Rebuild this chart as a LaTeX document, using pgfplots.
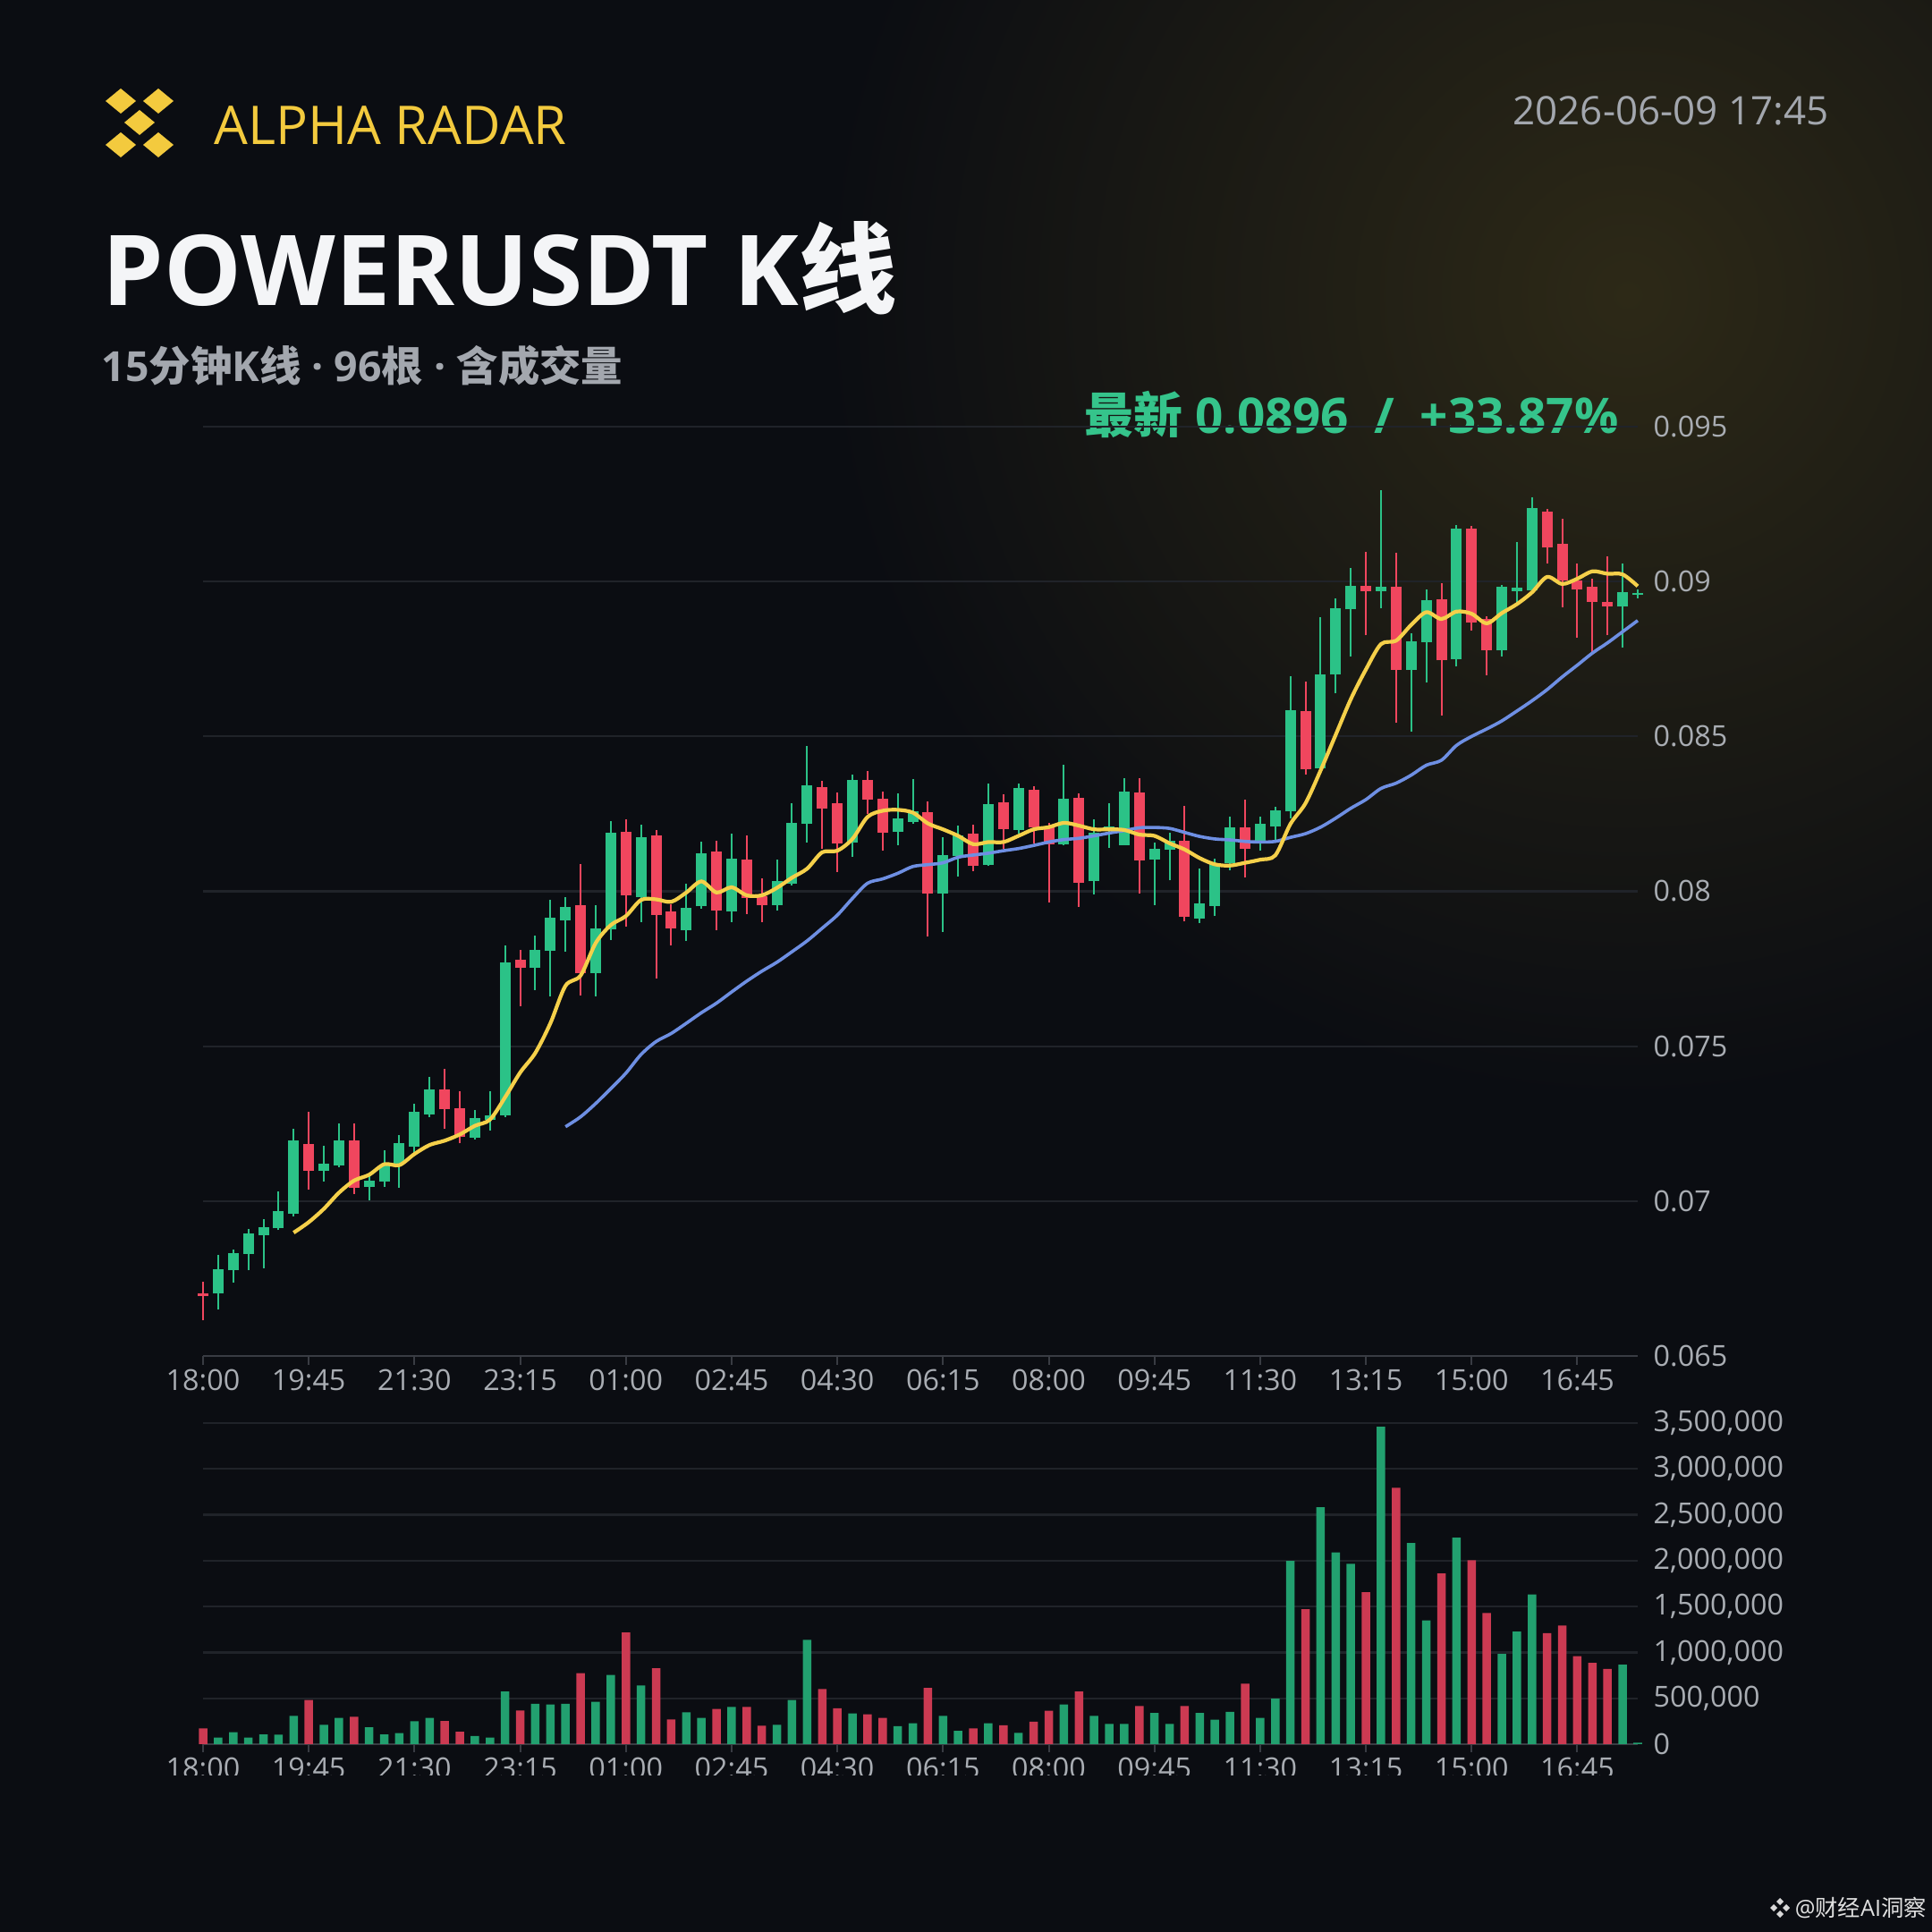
\documentclass[border=0pt]{standalone}
\usepackage{pgfplots}
\pgfplotsset{compat=1.18}
\usepackage{pgfplotstable}
\usepackage{fontspec}
\setmainfont{Open Sans}
\newfontfamily\cjk{Noto Sans CJK SC}

\definecolor{bg}{HTML}{0B0D12}
\definecolor{glow}{HTML}{2D2917}
\definecolor{gridc}{HTML}{202329}
\definecolor{axisc}{HTML}{393C43}
\definecolor{tickc}{HTML}{A9ADB3}
\definecolor{upc}{HTML}{2BC287}
\definecolor{dnc}{HTML}{F0465E}
\definecolor{upv}{HTML}{22A06F}
\definecolor{dnv}{HTML}{CC3A52}
\definecolor{maY}{HTML}{F5D04A}
\definecolor{maB}{HTML}{6E8FE3}
\definecolor{brand}{HTML}{F3CA3E}
\definecolor{titlec}{HTML}{F4F5F7}
\definecolor{subc}{HTML}{A3A7AE}
\definecolor{latest}{HTML}{35C48B}

% up (green) candles: index open high low close volume
\pgfplotstableread{
i O H L C V
1 0.06701 0.06826 0.06649 0.06780 71000
2 0.06776 0.06845 0.06738 0.06831 130000
3 0.06829 0.06910 0.06776 0.06896 71000
4 0.06890 0.06941 0.06783 0.06915 107000
5 0.06912 0.07030 0.06906 0.06967 104000
6 0.06960 0.07232 0.06951 0.07197 309000
8 0.07097 0.07178 0.07063 0.07121 211000
9 0.07116 0.07250 0.07109 0.07197 286000
11 0.07045 0.07085 0.07001 0.07066 185000
12 0.07064 0.07164 0.07045 0.07119 107000
13 0.07119 0.07212 0.07044 0.07186 120000
14 0.07176 0.07315 0.07152 0.07289 250000
15 0.07280 0.07400 0.07272 0.07359 286000
18 0.07205 0.07293 0.07198 0.07269 88000
19 0.07262 0.07356 0.07229 0.07277 71000
20 0.07277 0.07824 0.07272 0.07771 575000
22 0.07752 0.07856 0.07682 0.07812 439000
23 0.07807 0.07973 0.07661 0.07916 432000
24 0.07907 0.07980 0.07805 0.07950 439000
26 0.07735 0.07956 0.07661 0.07881 461000
27 0.07876 0.08227 0.07843 0.08188 754000
29 0.07982 0.08215 0.07900 0.08174 640000
32 0.07875 0.08025 0.07841 0.07946 348000
33 0.07951 0.08160 0.07944 0.08124 286000
35 0.07934 0.08185 0.07900 0.08106 406000
38 0.07956 0.08102 0.07937 0.08032 211000
39 0.08025 0.08284 0.08020 0.08222 481000
40 0.08219 0.08468 0.08157 0.08342 1137000
43 0.08157 0.08377 0.08111 0.08358 335000
46 0.08191 0.08315 0.08148 0.08236 195000
47 0.08224 0.08363 0.08217 0.08257 227000
49 0.07992 0.08174 0.07870 0.08118 309000
50 0.08113 0.08212 0.08047 0.08179 146000
52 0.08085 0.08349 0.08081 0.08282 227000
54 0.08198 0.08347 0.08186 0.08332 123000
57 0.08152 0.08409 0.08150 0.08299 432000
59 0.08032 0.08231 0.07990 0.08188 309000
60 0.08196 0.08284 0.08140 0.08208 221000
61 0.08150 0.08364 0.08148 0.08321 221000
63 0.08102 0.08157 0.07956 0.08138 341000
64 0.08133 0.08188 0.08035 0.08162 221000
66 0.07913 0.08073 0.07898 0.07961 341000
67 0.07953 0.08104 0.07920 0.08090 266000
68 0.08090 0.08241 0.08068 0.08207 351000
70 0.08164 0.08241 0.08131 0.08217 286000
71 0.08209 0.08272 0.08164 0.08260 497000
72 0.08257 0.08694 0.08236 0.08586 1998000
74 0.08396 0.08884 0.08390 0.08700 2583000
75 0.08699 0.08946 0.08639 0.08915 2089000
76 0.08910 0.09045 0.08759 0.08987 1966000
78 0.08970 0.09295 0.08913 0.08982 3460000
80 0.08716 0.08834 0.08516 0.08807 2193000
81 0.08804 0.08975 0.08673 0.08939 1348000
83 0.08750 0.09181 0.08726 0.09170 2251000
86 0.08778 0.08989 0.08759 0.08982 984000
87 0.08970 0.09127 0.08927 0.08980 1228000
88 0.08972 0.09272 0.08967 0.09236 1631000
94 0.08919 0.09057 0.08788 0.08967 867000
95 0.08956 0.08973 0.08946 0.08962 15000
}\upT

% down (red) candles
\pgfplotstableread{
i O H L C V
0 0.06702 0.06740 0.06615 0.06693 172000
7 0.07183 0.07289 0.07037 0.07097 481000
10 0.07197 0.07250 0.07023 0.07042 299000
16 0.07359 0.07428 0.07232 0.07296 253000
17 0.07299 0.07354 0.07186 0.07208 136000
21 0.07779 0.07811 0.07630 0.07754 367000
25 0.07956 0.08089 0.07665 0.07737 773000
28 0.08193 0.08231 0.07886 0.07987 1218000
30 0.08181 0.08198 0.07718 0.07924 828000
31 0.07934 0.07958 0.07826 0.07881 270000
34 0.08129 0.08164 0.07875 0.07939 383000
36 0.08102 0.08181 0.07927 0.07977 406000
37 0.07984 0.08041 0.07900 0.07956 201000
41 0.08337 0.08356 0.08136 0.08267 601000
42 0.08284 0.08318 0.08063 0.08153 390000
44 0.08358 0.08387 0.08250 0.08296 325000
45 0.08300 0.08323 0.08131 0.08190 286000
48 0.08255 0.08289 0.07854 0.07992 614000
51 0.08185 0.08214 0.08066 0.08081 172000
53 0.08286 0.08313 0.08136 0.08200 205000
55 0.08327 0.08340 0.08153 0.08206 244000
56 0.08206 0.08222 0.07965 0.08152 364000
58 0.08301 0.08315 0.07950 0.08027 575000
62 0.08318 0.08364 0.07992 0.08100 416000
65 0.08162 0.08275 0.07902 0.07918 416000
69 0.08205 0.08297 0.08044 0.08137 660000
73 0.08582 0.08678 0.08378 0.08393 1472000
77 0.08985 0.09097 0.08826 0.08970 1657000
79 0.08982 0.09093 0.08543 0.08716 2794000
82 0.08943 0.08994 0.08567 0.08745 1862000
84 0.09170 0.09178 0.08841 0.08869 2005000
85 0.08879 0.08887 0.08697 0.08778 1429000
89 0.09226 0.09234 0.09059 0.09109 1209000
90 0.09121 0.09203 0.08917 0.09002 1293000
91 0.09004 0.09057 0.08819 0.08975 958000
92 0.08982 0.09009 0.08766 0.08935 887000
93 0.08935 0.09081 0.08826 0.08920 819000
}\dnT

% MA7 (yellow)
\pgfplotstableread{
i v
6 0.06898
7 0.06932
8 0.06975
9 0.07027
10 0.07066
11 0.07085
12 0.07119
13 0.07116
14 0.07152
15 0.07181
16 0.07195
17 0.07215
18 0.07243
19 0.07263
20 0.07335
21 0.07415
22 0.07478
23 0.07574
24 0.07695
25 0.07728
26 0.07833
27 0.07891
28 0.07920
29 0.07972
30 0.07974
31 0.07966
32 0.07996
33 0.08032
34 0.07996
35 0.08013
36 0.07987
37 0.07987
38 0.08011
39 0.08044
40 0.08073
41 0.08126
42 0.08131
43 0.08169
44 0.08240
45 0.08260
46 0.08263
47 0.08254
48 0.08219
49 0.08200
50 0.08179
51 0.08152
52 0.08159
53 0.08159
54 0.08179
55 0.08200
56 0.08207
57 0.08221
58 0.08212
59 0.08200
60 0.08200
61 0.08198
62 0.08183
63 0.08179
64 0.08155
65 0.08135
66 0.08107
67 0.08087
68 0.08083
69 0.08092
70 0.08102
71 0.08116
72 0.08217
73 0.08284
74 0.08390
75 0.08505
76 0.08620
77 0.08716
78 0.08798
79 0.08809
80 0.08860
81 0.08901
82 0.08879
83 0.08903
84 0.08896
85 0.08865
86 0.08898
87 0.08927
88 0.08965
89 0.09015
90 0.08992
91 0.09009
92 0.09033
93 0.09025
94 0.09023
95 0.08985
}\maA

% MA25 (blue)
\pgfplotstableread{
i v
24 0.07240
25 0.07272
26 0.07315
27 0.07363
28 0.07413
29 0.07473
30 0.07515
31 0.07541
32 0.07574
33 0.07608
34 0.07639
35 0.07675
36 0.07710
37 0.07742
38 0.07771
39 0.07805
40 0.07840
41 0.07881
42 0.07923
43 0.07977
44 0.08026
45 0.08040
46 0.08058
47 0.08080
48 0.08086
49 0.08092
50 0.08110
51 0.08117
52 0.08123
53 0.08131
54 0.08138
55 0.08148
56 0.08159
57 0.08167
58 0.08171
59 0.08179
60 0.08188
61 0.08196
62 0.08205
63 0.08206
64 0.08203
65 0.08190
66 0.08177
67 0.08169
68 0.08166
69 0.08161
70 0.08159
71 0.08161
72 0.08174
73 0.08186
74 0.08207
75 0.08236
76 0.08268
77 0.08296
78 0.08332
79 0.08349
80 0.08375
81 0.08407
82 0.08423
83 0.08471
84 0.08500
85 0.08524
86 0.08550
87 0.08582
88 0.08615
89 0.08651
90 0.08692
91 0.08730
92 0.08769
93 0.08802
94 0.08838
95 0.08874
}\maB

\pgfplotsset{
  kstyle/.style={
    scale only axis, width=160.4mm, xmin=0, xmax=95,
    clip=false,
    axis line style={draw=none},
    tick style={draw=none},
    ymajorgrids, grid style={gridc, line width=0.22mm},
    xtick={0,7,...,91},
    xticklabels={18:00,19:45,21:30,23:15,01:00,02:45,04:30,06:15,08:00,09:45,11:30,13:15,15:00,16:45},
    tick label style={font=\fontsize{9.2}{10}\selectfont, text=tickc, inner sep=0pt},
    xticklabel style={anchor=center, yshift=-2.75mm},
    yticklabel pos=right,
    yticklabel style={anchor=west, xshift=1.7mm},
    scaled y ticks=false,
  },
  wick/.style={forget plot, only marks, mark=none, mark size=0pt,
    mark options={draw=none, fill=none},
    error bars/.cd, y dir=plus, y explicit, error mark=none,
    error bar style={#1, line width=0.2mm}},
  body/.style={forget plot, only marks, mark=none, mark size=0pt,
    mark options={draw=none, fill=none},
    error bars/.cd, y dir=plus, y explicit, error mark=none,
    error bar style={#1, line width=1.2mm}},
}

\begin{document}
\begin{tikzpicture}
\useasboundingbox (0,0) rectangle (216mm,216mm);
\begin{scope}[x=0.1mm,y=0.1mm]
  \fill[bg] (0,0) rectangle (2160,2160);
  \begin{scope}
    \clip (0,0) rectangle (2160,2160);
    \shade[inner color=glow, outer color=bg] (1820,1830) circle (900);
  \end{scope}
  % logo
  \foreach \cx/\cy in {135/2047, 177/2047, 156/2023, 135/1998, 177/1998}{
    \fill[brand] (\cx-17,\cy) -- (\cx,\cy+14) -- (\cx+17,\cy) -- (\cx,\cy-14) -- cycle;
  }
  \node[anchor=base west, inner sep=0pt, text=brand, font=\fontsize{17.0}{18}\selectfont] at (239,1998) {ALPHA RADAR};
  \node[anchor=base west, inner sep=0pt, text=titlec, font=\fontsize{31.1}{33}\selectfont\bfseries] at (114,1818) {POWERUSDT K{\cjk\bfseries 线}};
  \node[anchor=base west, inner sep=0pt, text=subc, font=\fontsize{13.2}{14}\selectfont\bfseries] at (113,1733) {15{\cjk\bfseries 分钟}K{\cjk\bfseries 线} · 96{\cjk\bfseries 根} · {\cjk\bfseries 含成交量}};
  \node[anchor=base east, inner sep=0pt, text=subc, font=\fontsize{12.5}{14}\selectfont] at (2045,2020) {2026-06-09 17:45};
  \node[anchor=base east, inner sep=0pt, text=latest, font=\fontsize{15.6}{18}\selectfont\bfseries] at (1810,1675) {{\cjk\bfseries 最新} 0.0896\ \ /\ \ +33.87\%};
\end{scope}

% price panel
\begin{axis}[kstyle, at={(22.7mm,64.4mm)}, anchor=south west, height=103.9mm,
  ymin=0.065, ymax=0.095,
  ytick={0.065,0.07,0.075,0.08,0.085,0.09,0.095},
  yticklabel style={/pgf/number format/fixed, /pgf/number format/precision=3, /pgf/number format/assume math mode=true},
]
  \draw[axisc, line width=0.22mm] (axis cs:0,0.065) -- (axis cs:95,0.065);
  \pgfplotsinvokeforeach{0,7,...,91}{\draw[axisc, line width=0.2mm] (axis cs:#1,0.065) -- (axis cs:#1,0.0647);}
  \addplot[wick=upc] table[x=i, y=L, y error plus expr=\thisrow{H}-\thisrow{L}] {\upT};
  \addplot[wick=dnc] table[x=i, y=L, y error plus expr=\thisrow{H}-\thisrow{L}] {\dnT};
  \addplot[body=upc] table[x=i, y=O, y error plus expr=\thisrow{C}-\thisrow{O}] {\upT};
  \addplot[body=dnc] table[x=i, y=C, y error plus expr=\thisrow{O}-\thisrow{C}] {\dnT};
  \addplot[maB, line width=0.36mm, smooth, mark=none] table[x=i, y=v] {\maB};
  \addplot[maY, line width=0.42mm, smooth, mark=none] table[x=i, y=v] {\maA};
\end{axis}

% volume panel
\begin{axis}[kstyle, at={(22.7mm,21.0mm)}, anchor=south west, height=35.9mm,
  ymin=0, ymax=3500000,
  ytick={0,500000,1000000,1500000,2000000,2500000,3000000,3500000},
  yticklabel style={/pgf/number format/fixed, /pgf/number format/1000 sep={,}, /pgf/number format/assume math mode=true},
]
  \draw[axisc, line width=0.22mm] (axis cs:0,0) -- (axis cs:95,0);
  \pgfplotsinvokeforeach{0,7,...,91}{\draw[axisc, line width=0.2mm] (axis cs:#1,0) -- (axis cs:#1,-85000);}
  \addplot[ybar, bar width=0.95mm, bar shift=0pt, fill=upv, draw=none] table[x=i, y=V] {\upT};
  \addplot[ybar, bar width=0.95mm, bar shift=0pt, fill=dnv, draw=none] table[x=i, y=V] {\dnT};
\end{axis}

\begin{scope}[x=0.1mm,y=0.1mm]
  \fill[bg] (0,0) rectangle (2160,175);
  % watermark
  \foreach \dx/\dy in {0/7, 7/0, 0/-7, -7/0}{
    \fill[white!85!black] (1990+\dx-4,27+\dy) -- (1990+\dx,27+\dy+4) -- (1990+\dx+4,27+\dy) -- (1990+\dx,27+\dy-4) -- cycle;
  }
  \node[anchor=base west, inner sep=0pt, text=white!88!black, font=\fontsize{7.2}{8}\selectfont] at (2006,18) {@{\cjk 财经}AI{\cjk 洞察}};
\end{scope}
\end{tikzpicture}
\end{document}
